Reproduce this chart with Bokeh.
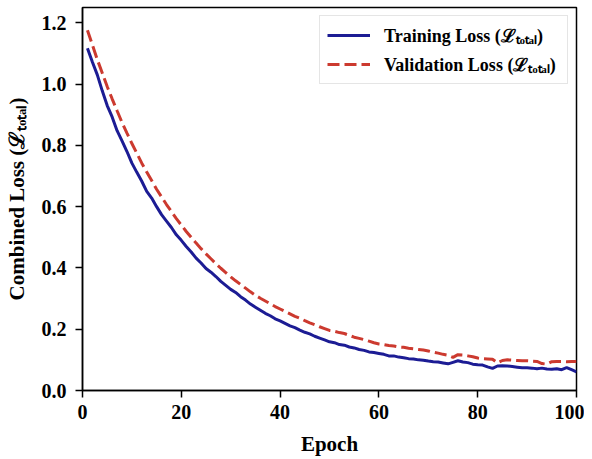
from bokeh.plotting import figure
from bokeh.models import Range1d, Legend, LegendItem, FixedTicker, CustomJSTickFormatter
from bokeh.embed import file_html
from bokeh.resources import INLINE

epochs = list(range(1, 101))

train_loss = [
    1.117, 1.072, 1.030, 0.978, 0.930, 0.893, 0.848, 0.815, 0.780, 0.742,
    0.712, 0.683, 0.650, 0.628, 0.600, 0.574, 0.553, 0.532, 0.508, 0.490,
    0.470, 0.452, 0.432, 0.416, 0.398, 0.386, 0.372, 0.356, 0.343, 0.330,
    0.320, 0.306, 0.295, 0.282, 0.272, 0.262, 0.252, 0.244, 0.234, 0.227,
    0.219, 0.211, 0.205, 0.197, 0.190, 0.185, 0.177, 0.171, 0.165, 0.159,
    0.156, 0.150, 0.148, 0.142, 0.139, 0.134, 0.131, 0.126, 0.124, 0.121,
    0.118, 0.113, 0.113, 0.109, 0.107, 0.104, 0.103, 0.100, 0.099, 0.096,
    0.094, 0.093, 0.090, 0.087, 0.092, 0.097, 0.093, 0.091, 0.086, 0.084,
    0.083, 0.077, 0.072, 0.080, 0.081, 0.080, 0.078, 0.076, 0.074, 0.074,
    0.073, 0.071, 0.073, 0.070, 0.069, 0.071, 0.068, 0.075, 0.068, 0.061,
]

val_loss = [
    1.176, 1.128, 1.080, 1.036, 0.992, 0.952, 0.913, 0.875, 0.840, 0.806,
    0.774, 0.742, 0.713, 0.685, 0.657, 0.632, 0.607, 0.584, 0.561, 0.540,
    0.519, 0.500, 0.481, 0.463, 0.446, 0.430, 0.414, 0.399, 0.385, 0.371,
    0.358, 0.346, 0.334, 0.322, 0.311, 0.301, 0.292, 0.283, 0.274, 0.266,
    0.258, 0.250, 0.242, 0.236, 0.228, 0.221, 0.215, 0.208, 0.202, 0.196,
    0.193, 0.189, 0.186, 0.180, 0.174, 0.170, 0.166, 0.161, 0.156, 0.152,
    0.150, 0.147, 0.145, 0.142, 0.141, 0.138, 0.136, 0.134, 0.132, 0.129,
    0.125, 0.122, 0.118, 0.115, 0.108, 0.117, 0.116, 0.113, 0.110, 0.106,
    0.104, 0.103, 0.102, 0.090, 0.098, 0.100, 0.099, 0.098, 0.097, 0.097,
    0.096, 0.095, 0.088, 0.086, 0.094, 0.095, 0.095, 0.094, 0.095, 0.095,
]

x_ticks = [0, 20, 40, 60, 80, 100]
y_ticks = [0.0, 0.2, 0.4, 0.6, 0.8, 1.0, 1.2]

FONT = "Liberation Serif"

p = figure(
    frame_width=494, frame_height=383,
    min_border_left=82, min_border_right=8, min_border_top=7, min_border_bottom=10,
    x_range=Range1d(0, 100), y_range=Range1d(0, 1.25),
    output_backend="svg", toolbar_location=None,
    background_fill_color="white", border_fill_color="white",
)
p.grid.visible = False
p.outline_line_color = "black"
p.outline_line_width = 1.5

tl = p.line(epochs, train_loss, line_color="#1c1c94", line_width=3)
vl = p.line(epochs, val_loss, line_color="#cc3a2f", line_width=3, line_dash="12 5")

p.xaxis.ticker = FixedTicker(ticks=x_ticks)
p.yaxis.ticker = FixedTicker(ticks=y_ticks)
p.yaxis.formatter = CustomJSTickFormatter(code="return tick.toFixed(1);")

for ax in (p.xaxis, p.yaxis):
    ax.axis_line_color = "black"
    ax.axis_line_width = 1.5
    ax.major_tick_line_color = "black"
    ax.major_tick_line_width = 1.5
    ax.major_tick_out = 7
    ax.major_tick_in = 0
    ax.minor_tick_line_color = None
    ax.major_label_text_font = FONT
    ax.major_label_text_font_style = "bold"
    ax.major_label_text_font_size = "20px"
    ax.major_label_text_color = "black"
    ax.axis_label_text_font = FONT
    ax.axis_label_text_font_style = "bold"
    ax.axis_label_text_font_size = "21px"
    ax.axis_label_text_color = "black"

p.xaxis.axis_label = "Epoch"
p.yaxis.axis_label = "Combined Loss (ℒₜₒₜₐₗ)"
p.xaxis.major_label_standoff = 7
p.yaxis.major_label_standoff = 9
p.xaxis.axis_label_standoff = 10
p.yaxis.axis_label_standoff = 10

legend = Legend(
    items=[
        LegendItem(label="Training Loss (ℒₜₒₜₐₗ)", renderers=[tl]),
        LegendItem(label="Validation Loss (ℒₜₒₜₐₗ)", renderers=[vl]),
    ],
    location="top_right",
    label_text_font=FONT,
    label_text_font_style="bold",
    label_text_font_size="18px",
    label_text_color="black",
    glyph_width=43,
    label_standoff=14,
    label_width=176,
    spacing=5,
    padding=7,
    margin=8,
    border_line_color="#cccccc",
    border_line_width=1.5,
    background_fill_color="white",
    background_fill_alpha=0.9,
)
p.add_layout(legend)

open("out.html", "w").write(file_html(p, INLINE))
